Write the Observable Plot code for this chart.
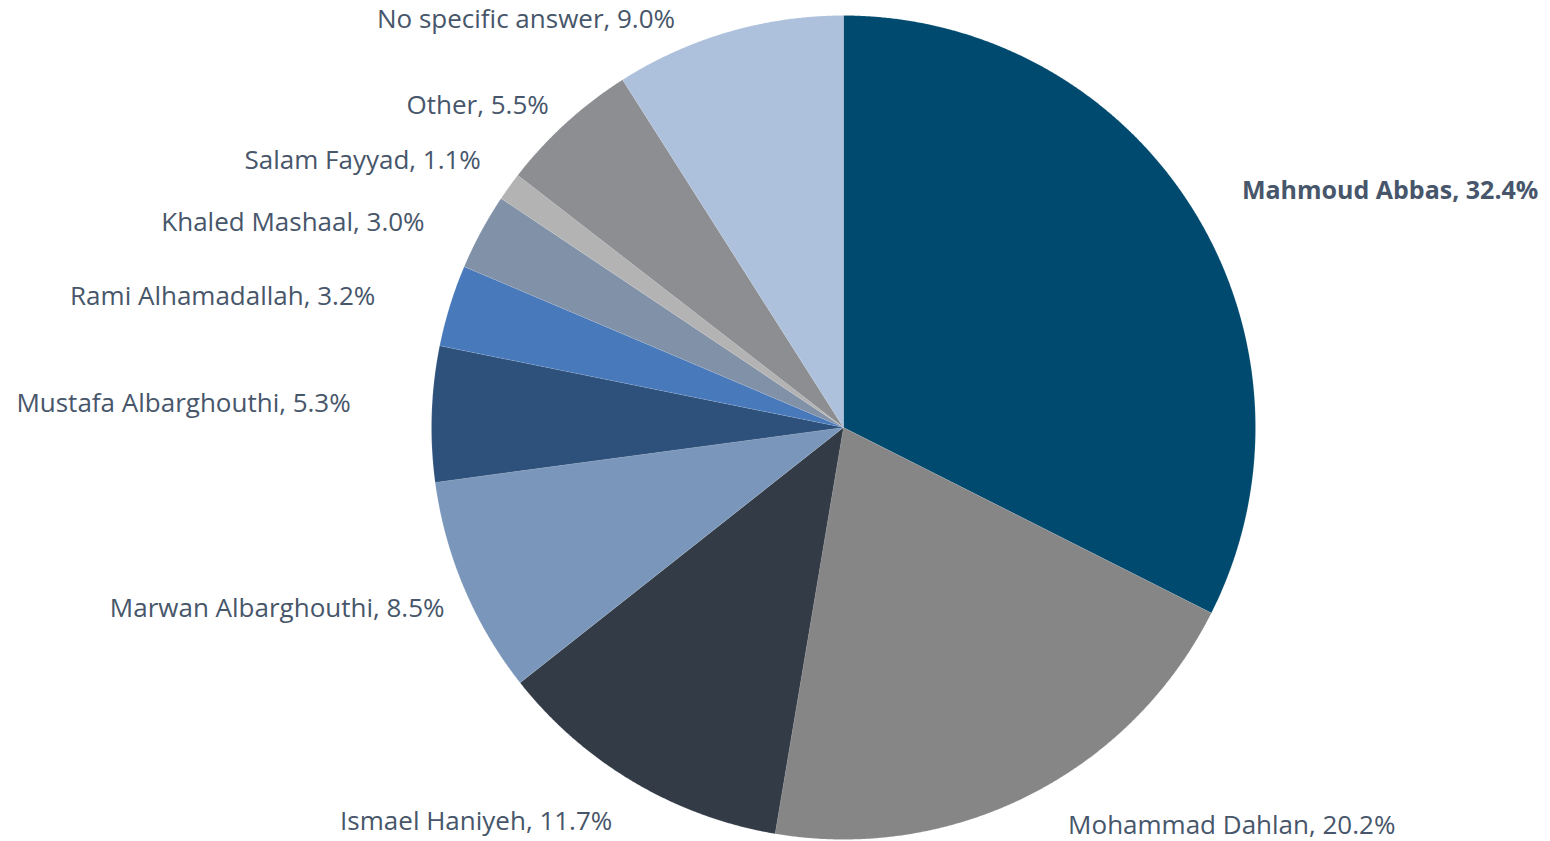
<!DOCTYPE html>
<html>
<head>
<meta charset="utf-8">
<script src="https://cdn.jsdelivr.net/npm/d3@7"></script>
<script src="https://cdn.jsdelivr.net/npm/@observablehq/plot@0.6"></script>
<style>
  html, body { margin: 0; padding: 0; background: #fff; }
  #chart svg { display: block; }
</style>
</head>
<body>
<div id="chart"></div>
<script>
// ---- data ----
const names = [
  "Mahmoud Abbas", "Mohammad Dahlan", "Ismael Haniyeh", "Marwan Albarghouthi",
  "Mustafa Albarghouthi", "Rami Alhamadallah", "Khaled Mashaal", "Salam Fayyad",
  "Other", "No specific answer"
];
const shares = [32.4, 20.2, 11.7, 8.5, 5.3, 3.2, 3.0, 1.1, 5.5, 9.0];

// ---- styles / layout (kept apart from data) ----
const colors = ["#004a6f", "#868686", "#323b46", "#7a97bb", "#2e517c",
                "#4879bb", "#8191a7", "#b3b3b3", "#8c8e92", "#adc1dc"];
const boldLabel = "Mahmoud Abbas";
const labelNudge = [[22, -5], [25, 4], [-6, 14], [8, 9], [-51, -9],
                    [-46, 0], [-30, 5], [-4, -8], [3, 5], [-45, 17]];

const W = 1550, H = 841, CX = 843, CY = 427, R = 412, GAP = 30;

const rows = names.map((name, i) => ({name, value: shares[i], i}));
const arcs = d3.pie().sort(null).value(d => d.value).startAngle(0).endAngle(2 * Math.PI)(rows);

// slice outlines (polar -> cartesian in scale units)
const slicePts = [];
for (const a of arcs) {
  const name = a.data.name;
  slicePts.push({name, x: 0, y: 0});
  const n = Math.max(2, Math.ceil((a.endAngle - a.startAngle) / 0.004));
  for (let k = 0; k <= n; k++) {
    const t = a.startAngle + (a.endAngle - a.startAngle) * k / n;
    slicePts.push({name, x: R * Math.sin(t), y: -R * Math.cos(t)});
  }
}

const labels = arcs.map(a => {
  const m = (a.startAngle + a.endAngle) / 2;
  const [nx, ny] = labelNudge[a.data.i];
  return {
    name: a.data.name,
    text: `${a.data.name}, ${a.data.value.toFixed(1)}%`,
    x: (R + GAP) * Math.sin(m) + nx,
    y: -(R + GAP) * Math.cos(m) + ny,
    right: Math.sin(m) >= 0
  };
});

const font = {fontFamily: "'Open Sans', 'Noto Sans', sans-serif", fontSize: 26, fill: "#47566a", lineAnchor: "middle"};

const chart = Plot.plot({
  width: W, height: H,
  margin: 0,
  x: {domain: [-CX, W - CX], range: [0, W], axis: null},
  y: {domain: [-CY, H - CY], range: [0, H], axis: null},
  color: {domain: names, range: colors},
  marks: [
    Plot.line(slicePts, {x: "x", y: "y", z: "name", fill: "name", stroke: "#ffffff", strokeWidth: 0.4, strokeOpacity: 0.3, curve: "linear"}),
    Plot.text(labels.filter(d => d.right && d.name === boldLabel), {x: "x", y: "y", text: "text", textAnchor: "start", ...font, fontSize: 25, fontWeight: "bold"}),
    Plot.text(labels.filter(d => d.right && d.name !== boldLabel), {x: "x", y: "y", text: "text", textAnchor: "start", ...font}),
    Plot.text(labels.filter(d => !d.right), {x: "x", y: "y", text: "text", textAnchor: "end", ...font})
  ]
});
document.getElementById("chart").appendChild(chart);
</script>
</body>
</html>
